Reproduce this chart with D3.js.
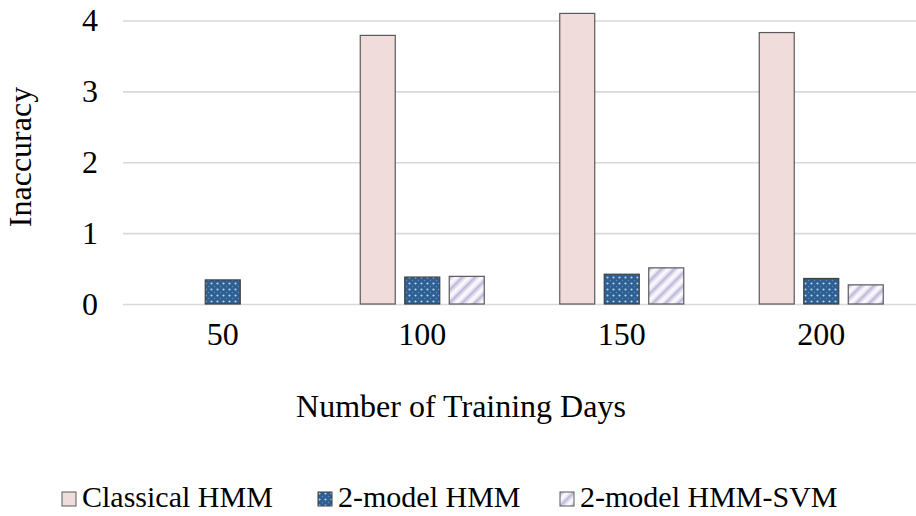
<!DOCTYPE html>
<html>
<head>
<meta charset="utf-8">
<script src="https://cdn.jsdelivr.net/npm/d3@7"></script>
<style>
  html, body { margin: 0; padding: 0; background: #fff; }
  svg { display: block; }
  svg text { font-family: "Liberation Serif", "Times New Roman", serif; fill: #000; }
</style>
</head>
<body>
<svg id="chart" width="916" height="516"></svg>
<script>
// Inaccuracy by number of training days, per model
const categories = ["50", "100", "150", "200"];
const seriesNames = ["Classical HMM", "2-model HMM", "2-model HMM-SVM"];
const classicalHMM = [0, 3.79, 4.10, 3.83];
const twoModelHMM = [0.34, 0.38, 0.42, 0.36];
const twoModelHMMSVM = [0, 0.39, 0.51, 0.27];
const yTicks = [0, 1, 2, 3, 4];

const seriesValues = [classicalHMM, twoModelHMM, twoModelHMMSVM];

const svg = d3.select("#chart");
const defs = svg.append("defs");

// Dotted blue fill
const dots = defs.append("pattern")
  .attr("id", "dots").attr("patternUnits", "userSpaceOnUse")
  .attr("width", 6).attr("height", 6);
dots.append("rect").attr("width", 6).attr("height", 6).attr("fill", "#2f5f92");
dots.append("circle").attr("cx", 1.5).attr("cy", 1.5).attr("r", 1.1).attr("fill", "#a9d6f0");
dots.append("circle").attr("cx", 4.5).attr("cy", 4.5).attr("r", 0.7).attr("fill", "#5e8fbd");

// Soft diagonal stripe fill
const stripes = defs.append("pattern")
  .attr("id", "stripes").attr("patternUnits", "userSpaceOnUse")
  .attr("width", 9).attr("height", 9)
  .attr("patternTransform", "rotate(45)");
stripes.append("rect").attr("width", 9).attr("height", 9).attr("fill", "#f8f7fc");
stripes.append("rect").attr("x", 0).attr("width", 2.5).attr("height", 9).attr("fill", "#c3bbdb");
stripes.append("rect").attr("x", 2.5).attr("width", 1.5).attr("height", 9).attr("fill", "#e0dbee");
stripes.append("rect").attr("x", 7.5).attr("width", 1.5).attr("height", 9).attr("fill", "#e0dbee");

const fills = ["#f0dcdb", "url(#dots)", "url(#stripes)"];
const strokes = ["#5a5a5a", "#3f3f3f", "#5a5a5a"];

const plot = { left: 123, right: 921, top: 20.5, bottom: 304 };
const fontSize = 32;
const legendFontSize = 30;

const x0 = d3.scaleBand().domain(categories).range([plot.left, plot.right]).paddingInner(0).paddingOuter(0);
const barW = 35, barGap = 9.5;
const x1 = i => x0.bandwidth() / 2 - (3 * barW + 2 * barGap) / 2 + i * (barW + barGap);

const y = d3.scaleLinear().domain([0, 4]).range([plot.bottom, plot.top]);

// Horizontal gridlines with value labels
const yAxis = d3.axisLeft(y).tickValues(yTicks).tickSize(-(plot.right - plot.left)).tickPadding(25).tickFormat(d3.format("d"));
const gy = svg.append("g").attr("transform", `translate(${plot.left},0)`).call(yAxis);
gy.select(".domain").remove();
gy.selectAll(".tick line").attr("stroke", "#d9d9d9").attr("stroke-width", 1.6);
gy.selectAll(".tick text").attr("font-size", fontSize).attr("fill", "#000");

// Bars
categories.forEach((cat, ci) => {
  seriesValues.forEach((vals, si) => {
    const v = vals[ci];
    if (v <= 0) return;
    svg.append("rect")
      .attr("x", x0(cat) + x1(si))
      .attr("y", y(v))
      .attr("width", barW)
      .attr("height", y(0) - y(v))
      .attr("fill", fills[si])
      .attr("stroke", strokes[si])
      .attr("stroke-width", 1.2);
  });
});

// Category axis labels
const xAxis = d3.axisBottom(x0).tickSize(0).tickPadding(18);
const gx = svg.append("g").attr("transform", `translate(0,${plot.bottom})`).call(xAxis);
gx.select(".domain").remove();
gx.selectAll(".tick text").attr("font-size", fontSize).attr("fill", "#000");

// Axis titles
svg.append("text")
  .attr("transform", "translate(31,157) rotate(-90)")
  .attr("text-anchor", "middle")
  .attr("font-size", fontSize)
  .text("Inaccuracy");

svg.append("text")
  .attr("x", 461).attr("y", 417)
  .attr("text-anchor", "middle")
  .attr("font-size", fontSize)
  .text("Number of Training Days");

// Legend
const legendX = [62, 318, 560];
seriesNames.forEach((name, i) => {
  const g = svg.append("g").attr("transform", `translate(${legendX[i]},492)`);
  g.append("rect").attr("width", 14).attr("height", 14)
    .attr("fill", fills[i]).attr("stroke", strokes[i]).attr("stroke-width", 1);
  g.append("text").attr("x", 20).attr("y", 14.5).attr("font-size", legendFontSize).text(name);
});
</script>
</body>
</html>
